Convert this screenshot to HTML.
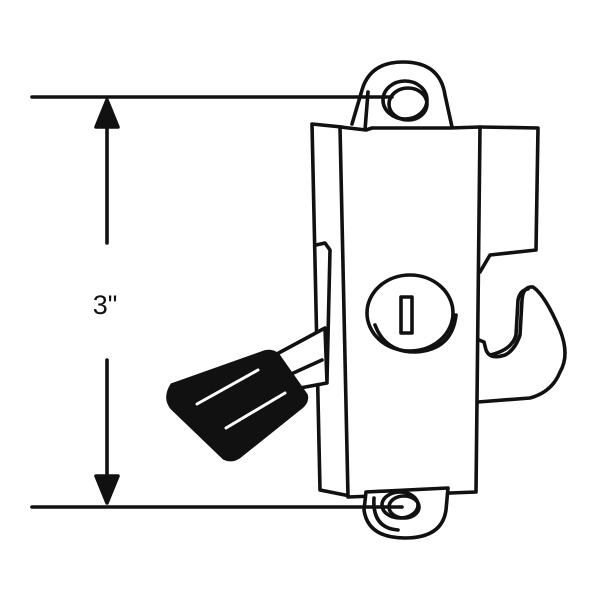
<!DOCTYPE html>
<html><head><style>body{margin:0;background:#fff}svg{display:block}</style></head><body>
<svg width="600" height="600" viewBox="0 0 600 600" xmlns="http://www.w3.org/2000/svg" fill="none" stroke="#111" stroke-width="3.6" stroke-linejoin="round" stroke-linecap="round">
<line x1="107" y1="118" x2="107" y2="243"/>
<line x1="107" y1="360" x2="107" y2="485"/>
<polygon points="107,100 96,127 118,127" fill="#111"/>
<polygon points="107,503 96,476 118,476" fill="#111"/>
<text x="105" y="314" font-family="Liberation Sans, sans-serif" font-size="27" fill="#111" stroke="none" text-anchor="middle">3"</text>
<!-- top tab -->
<path d="M352,124 L362,90 Q370,62 403,62 Q440,62 445,95 L452,127" fill="#fff"/>
<path d="M365,130 L368,92"/>
<ellipse cx="405" cy="100" rx="22" ry="19"/>
<ellipse cx="408" cy="104" rx="19" ry="16"/>
<!-- back panel -->
<path d="M312,124 L342,127 L350,496 L320,490 Z" fill="#fff"/>
<!-- front panel -->
<path d="M340,127 L366,130 L372,128 L450,128 L480,127 L476,492 L348,497 Z" fill="#fff"/>
<!-- right box -->
<path d="M480,127 L538,128 L536,250 L490,255 L480,272"/>
<!-- hook -->
<path d="M479,340 L484,342 L486,350 Q490,360 505,355 Q515,350 520,335 L522,300 Q523,286 533,287 Q545,295 560,330 Q570,355 560,372 Q552,392 530,398 L478,402"/>
<path d="M490,355 Q512,350 516,335 L518,300 Q520,290 528,289"/>
<!-- keyhole -->
<ellipse cx="410" cy="313" rx="43" ry="38" fill="#fff"/>
<path d="M375,325 Q385,352 415,352 Q452,350 456,315"/>
<rect x="401" y="297" width="11" height="36"/>
<!-- bottom tab -->
<path d="M366,492 L448,488 L446,510 Q442,538 405,538 Q368,538 364,510 Z" fill="#fff"/>
<path d="M374,498 Q372,528 398,530"/>
<ellipse cx="400" cy="505" rx="18" ry="13"/>
<ellipse cx="404" cy="507" rx="15" ry="11"/>
<!-- dimension lines on top -->
<line x1="32" y1="97" x2="392" y2="97"/>
<line x1="32" y1="507" x2="402" y2="507"/>
<!-- left slot -->
<path d="M316,245 L325,243 L330,250 L327,380"/>
<!-- lever arm -->
<path d="M275,355 L325,328 L327,383 L300,388 Z" fill="#fff"/>
<path d="M278,380 L322,360"/>
<path d="M172,385 L265,352 Q275,350 280,358 L306,395 Q308,402 300,408 L240,456 Q232,462 224,458 L172,408 Q164,398 172,385 Z" fill="#111"/>
<line x1="197" y1="404" x2="258" y2="370" stroke="#fff" stroke-width="3"/>
<line x1="226" y1="428" x2="285" y2="393" stroke="#fff" stroke-width="3"/>
</svg>
</body></html>
